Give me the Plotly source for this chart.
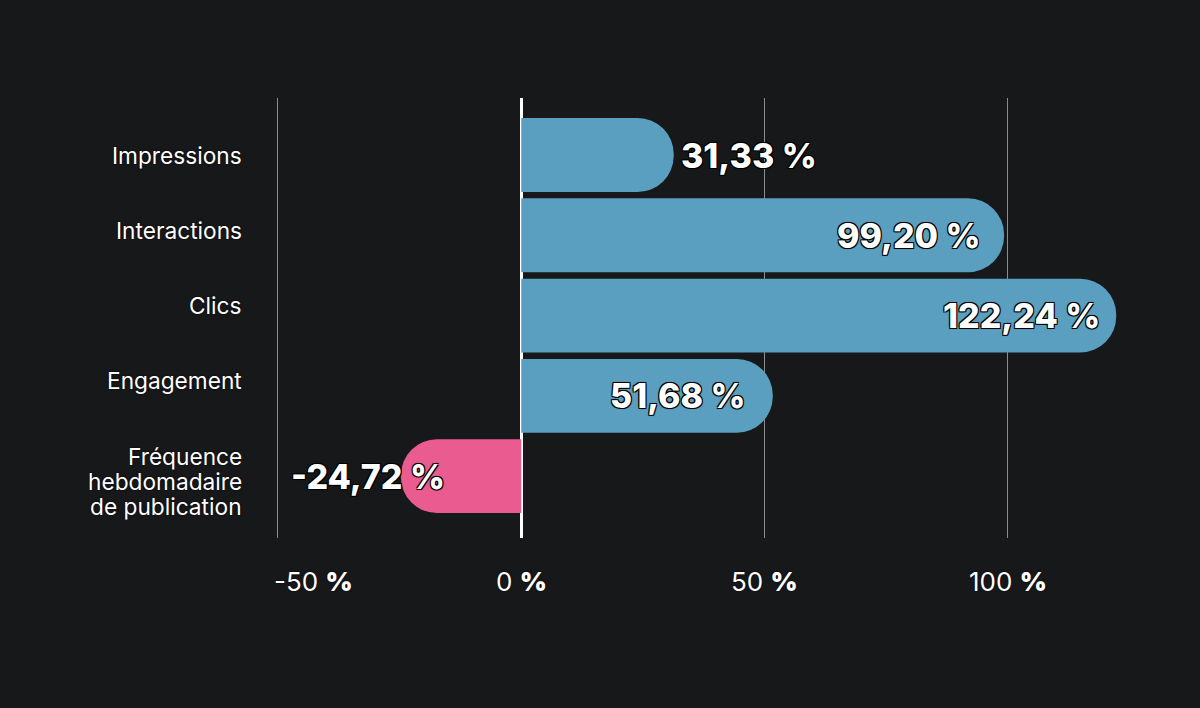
import plotly.graph_objects as go

categories = ["Impressions", "Interactions", "Clics", "Engagement",
              "Fréquence<br>hebdomadaire<br>de publication"]
values = [31.33, 99.20, 122.24, 51.68, -24.72]
value_labels = ["31,33 %", "99,20 %", "122,24 %", "51,68 %", "-24,72 %"]
tick_vals = [-50, 0, 50, 100]
tick_numbers = ["-50", "0", "50", "100"]

BG = "#17181a"
BLUE = "#5a9fbf"
PINK = "#ea5b8f"

colors = [BLUE if v >= 0 else PINK for v in values]

fig = go.Figure()
fig.add_trace(go.Bar(
    x=values, y=categories, orientation="h",
    marker=dict(color=colors, cornerradius="50%", line=dict(width=0)),
    width=0.92, hoverinfo="skip",
))

shadow = "-1px -1px 0 #000, 1px -1px 0 #000, -1px 1px 0 #000, 1px 1px 0 #000, 0 0 2px #000"
soft_shadow = "0 0 2px #000"

# value labels
for cat, v, lab in zip(categories, values, value_labels):
    if v < 0:
        xanchor, xshift = "right", 46
    elif v < 40:
        xanchor, xshift = "left", 5
    else:
        xanchor, xshift = "center", -95
    fig.add_annotation(
        x=v, y=cat, text=lab, showarrow=False, xanchor=xanchor, xshift=xshift,
        font=dict(family="Inter", size=34, color="white", weight=800, shadow=shadow),
    )

# category labels (on their own overlaid label axis), one annotation per line
LINE_H = 25
for i, cat in enumerate(categories):
    for k, line in enumerate(cat.split("<br>")):
        fig.add_annotation(
            xref="paper", x=0, xanchor="right", xshift=-29,
            yref="y2", y=i, yanchor="middle", yshift=0 - LINE_H * k,
            text=line, showarrow=False,
            font=dict(family="Inter", size=22.7, color="white", shadow=soft_shadow),
        )

# x tick labels with bold percent sign
for i, (tv, tn) in enumerate(zip(tick_vals, tick_numbers)):
    first = i == 0
    fig.add_annotation(
        x=tv, xref="x", yref="paper", y=0, yanchor="middle", yshift=-43,
        xanchor="left" if first else "center", xshift=-6 if first else 0,
        text=f"{tn} <span style='font-weight:900'>%</span>", showarrow=False,
        font=dict(family="Inter", size=26, color="white", shadow=soft_shadow),
    )

fig.update_layout(
    width=1200, height=708,
    paper_bgcolor=BG, plot_bgcolor=BG,
    margin=dict(l=273, r=46, t=98, b=170),
    showlegend=False,
    font=dict(family="Inter", color="white"),
    xaxis=dict(
        range=[-51, 130], tickvals=tick_vals, showticklabels=False,
        showgrid=True, gridcolor="#8c8c8c", gridwidth=1,
        zeroline=True, zerolinecolor="white", zerolinewidth=3,
        showline=False, ticks="",
        fixedrange=True,
    ),
    yaxis=dict(
        range=[4.77, -0.71], type="category",
        showgrid=False, zeroline=False, showline=False, ticks="",
        showticklabels=False,
        fixedrange=True,
    ),
    yaxis2=dict(
        overlaying="y", range=[5.086, -0.757], visible=False,
        showgrid=False, zeroline=False, fixedrange=True,
    ),
)

fig.write_html("out.html")
